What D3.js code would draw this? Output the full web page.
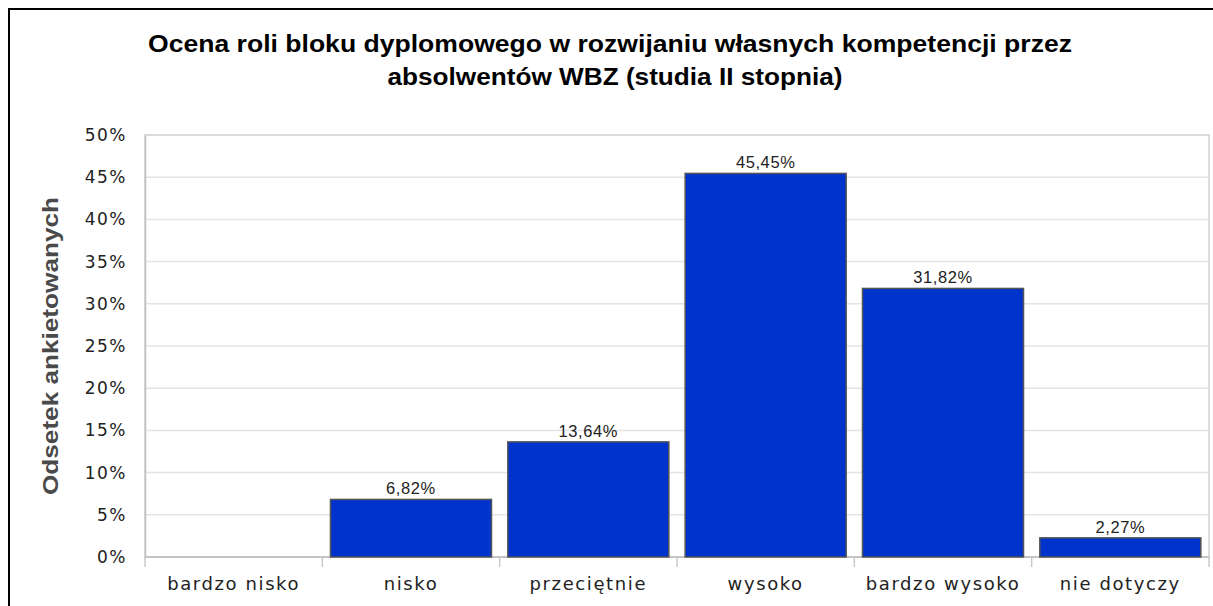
<!DOCTYPE html>
<html>
<head>
<meta charset="utf-8">
<script src="https://cdn.jsdelivr.net/npm/d3@7"></script>
<style>
  body { margin: 0; background: #fff; }
</style>
</head>
<body>
<div id="chart"></div>
<script>
// chart data
const categories = ["bardzo nisko", "nisko", "przeciętnie", "wysoko", "bardzo wysoko", "nie dotyczy"];
const values = [0, 6.82, 13.64, 45.45, 31.82, 2.27];
const yTicks = [0, 5, 10, 15, 20, 25, 30, 35, 40, 45, 50];
const titleLines = ["Ocena roli bloku dyplomowego w rozwijaniu własnych kompetencji przez",
                    "absolwentów WBZ (studia II stopnia)"];
const yTitle = "Odsetek ankietowanych";

const W = 1213, H = 606;
const margin = { top: 135, right: 4, bottom: 49, left: 145 },
    width = W - margin.left - margin.right,
    height = H - margin.top - margin.bottom;

const svg = d3.select("#chart")
    .append("svg")
    .attr("width", W)
    .attr("height", H);

// outer frame (right and bottom edges fall outside the picture)
svg.append("rect")
    .attr("x", 9).attr("y", 9)
    .attr("width", W + 50).attr("height", H + 50)
    .attr("fill", "#fff")
    .attr("stroke", "#000")
    .attr("stroke-width", 2);

// title
svg.append("g").selectAll("text")
    .data(titleLines)
    .enter()
    .append("text")
    .attr("x", function(d, i) { return i === 0 ? 610 : 615; })
    .attr("y", function(d, i) { return 52 + i * 33; })
    .attr("text-anchor", "middle")
    .attr("textLength", function(d, i) { return i === 0 ? 924 : 455; })
    .attr("lengthAdjust", "spacingAndGlyphs")
    .style("font-family", "'Liberation Sans', Arial, sans-serif")
    .style("font-weight", "bold")
    .style("font-size", "23.5px")
    .style("fill", "#000")
    .text(function(d) { return d; });

const g = svg.append("g")
    .attr("transform", "translate(" + margin.left + "," + margin.top + ")");

const x = d3.scaleBand()
    .domain(categories)
    .range([0, width])
    .paddingInner(0.092)
    .paddingOuter(0.046);

const y = d3.scaleLinear()
    .domain([0, 50])
    .range([height, 0]);

// plot background + gridlines
g.append("rect")
    .attr("width", width).attr("height", height)
    .attr("fill", "#fff")
    .attr("stroke", "#d0d0d0")
    .attr("stroke-width", 1.5);

g.append("g")
    .selectAll("line")
    .data(yTicks.filter(function(d) { return d > 0 && d < 50; }))
    .enter()
    .append("line")
    .attr("x1", 0).attr("x2", width)
    .attr("y1", function(d) { return y(d); })
    .attr("y2", function(d) { return y(d); })
    .attr("stroke", "#e4e4e4")
    .attr("stroke-width", 1.5);

// y axis labels
const yAxis = g.append("g")
    .call(d3.axisLeft(y).tickValues(yTicks).tickSize(0).tickPadding(18)
        .tickFormat(function(d) { return d + "%"; }));
yAxis.select(".domain").attr("stroke", "#c0c0c0").attr("stroke-width", 1.5);
yAxis.selectAll("text")
    .style("font-family", "'DejaVu Sans', Verdana, sans-serif")
    .style("font-size", "17px")
    .style("letter-spacing", "1.5px")
    .style("fill", "#222");

// x axis with ticks between categories
const step = x.step();
const xAxis = g.append("g")
    .attr("transform", "translate(0," + height + ")");
xAxis.append("line")
    .attr("x1", 0).attr("x2", width)
    .attr("stroke", "#bdbdbd").attr("stroke-width", 1.5);
xAxis.selectAll(".sep")
    .data(d3.range(categories.length + 1))
    .enter()
    .append("line")
    .attr("class", "sep")
    .attr("x1", function(i) { return i * step; })
    .attr("x2", function(i) { return i * step; })
    .attr("y1", 0).attr("y2", 10)
    .attr("stroke", "#c8c8c8").attr("stroke-width", 1.5);
xAxis.selectAll(".cat")
    .data(categories)
    .enter()
    .append("text")
    .attr("class", "cat")
    .attr("x", function(d) { return x(d) + x.bandwidth() / 2; })
    .attr("y", 33)
    .attr("text-anchor", "middle")
    .style("font-family", "'DejaVu Sans', Verdana, sans-serif")
    .style("font-size", "18px")
    .style("letter-spacing", "1.6px")
    .style("fill", "#222")
    .text(function(d) { return d; });

// bars
const data = categories.map(function(c, i) { return { cat: c, val: values[i] }; });
g.append("g")
    .selectAll("rect")
    .data(data.filter(function(d) { return d.val > 0; }))
    .enter()
    .append("rect")
    .attr("x", function(d) { return x(d.cat); })
    .attr("y", function(d) { return y(d.val); })
    .attr("width", x.bandwidth())
    .attr("height", function(d) { return height - y(d.val); })
    .attr("fill", "#0033cc")
    .attr("stroke", "#555")
    .attr("stroke-width", 1.5);

// value labels
g.append("g")
    .selectAll("text")
    .data(data.filter(function(d) { return d.val > 0; }))
    .enter()
    .append("text")
    .attr("x", function(d) { return x(d.cat) + x.bandwidth() / 2; })
    .attr("y", function(d) { return y(d.val) - 5; })
    .attr("text-anchor", "middle")
    .style("font-family", "'Liberation Sans', Arial, sans-serif")
    .style("font-size", "16.5px")
    .style("letter-spacing", "0.6px")
    .style("fill", "#222")
    .text(function(d) { return d.val.toFixed(2).replace(".", ",") + "%"; });

// y axis title
svg.append("text")
    .attr("transform", "translate(58," + (margin.top + height / 2) + ") rotate(-90)")
    .attr("text-anchor", "middle")
    .attr("textLength", 298)
    .attr("lengthAdjust", "spacingAndGlyphs")
    .style("font-family", "'Liberation Sans', Arial, sans-serif")
    .style("font-weight", "bold")
    .style("font-size", "22.5px")
    .style("fill", "#4a4a4a")
    .text(yTitle);
</script>
</body>
</html>
